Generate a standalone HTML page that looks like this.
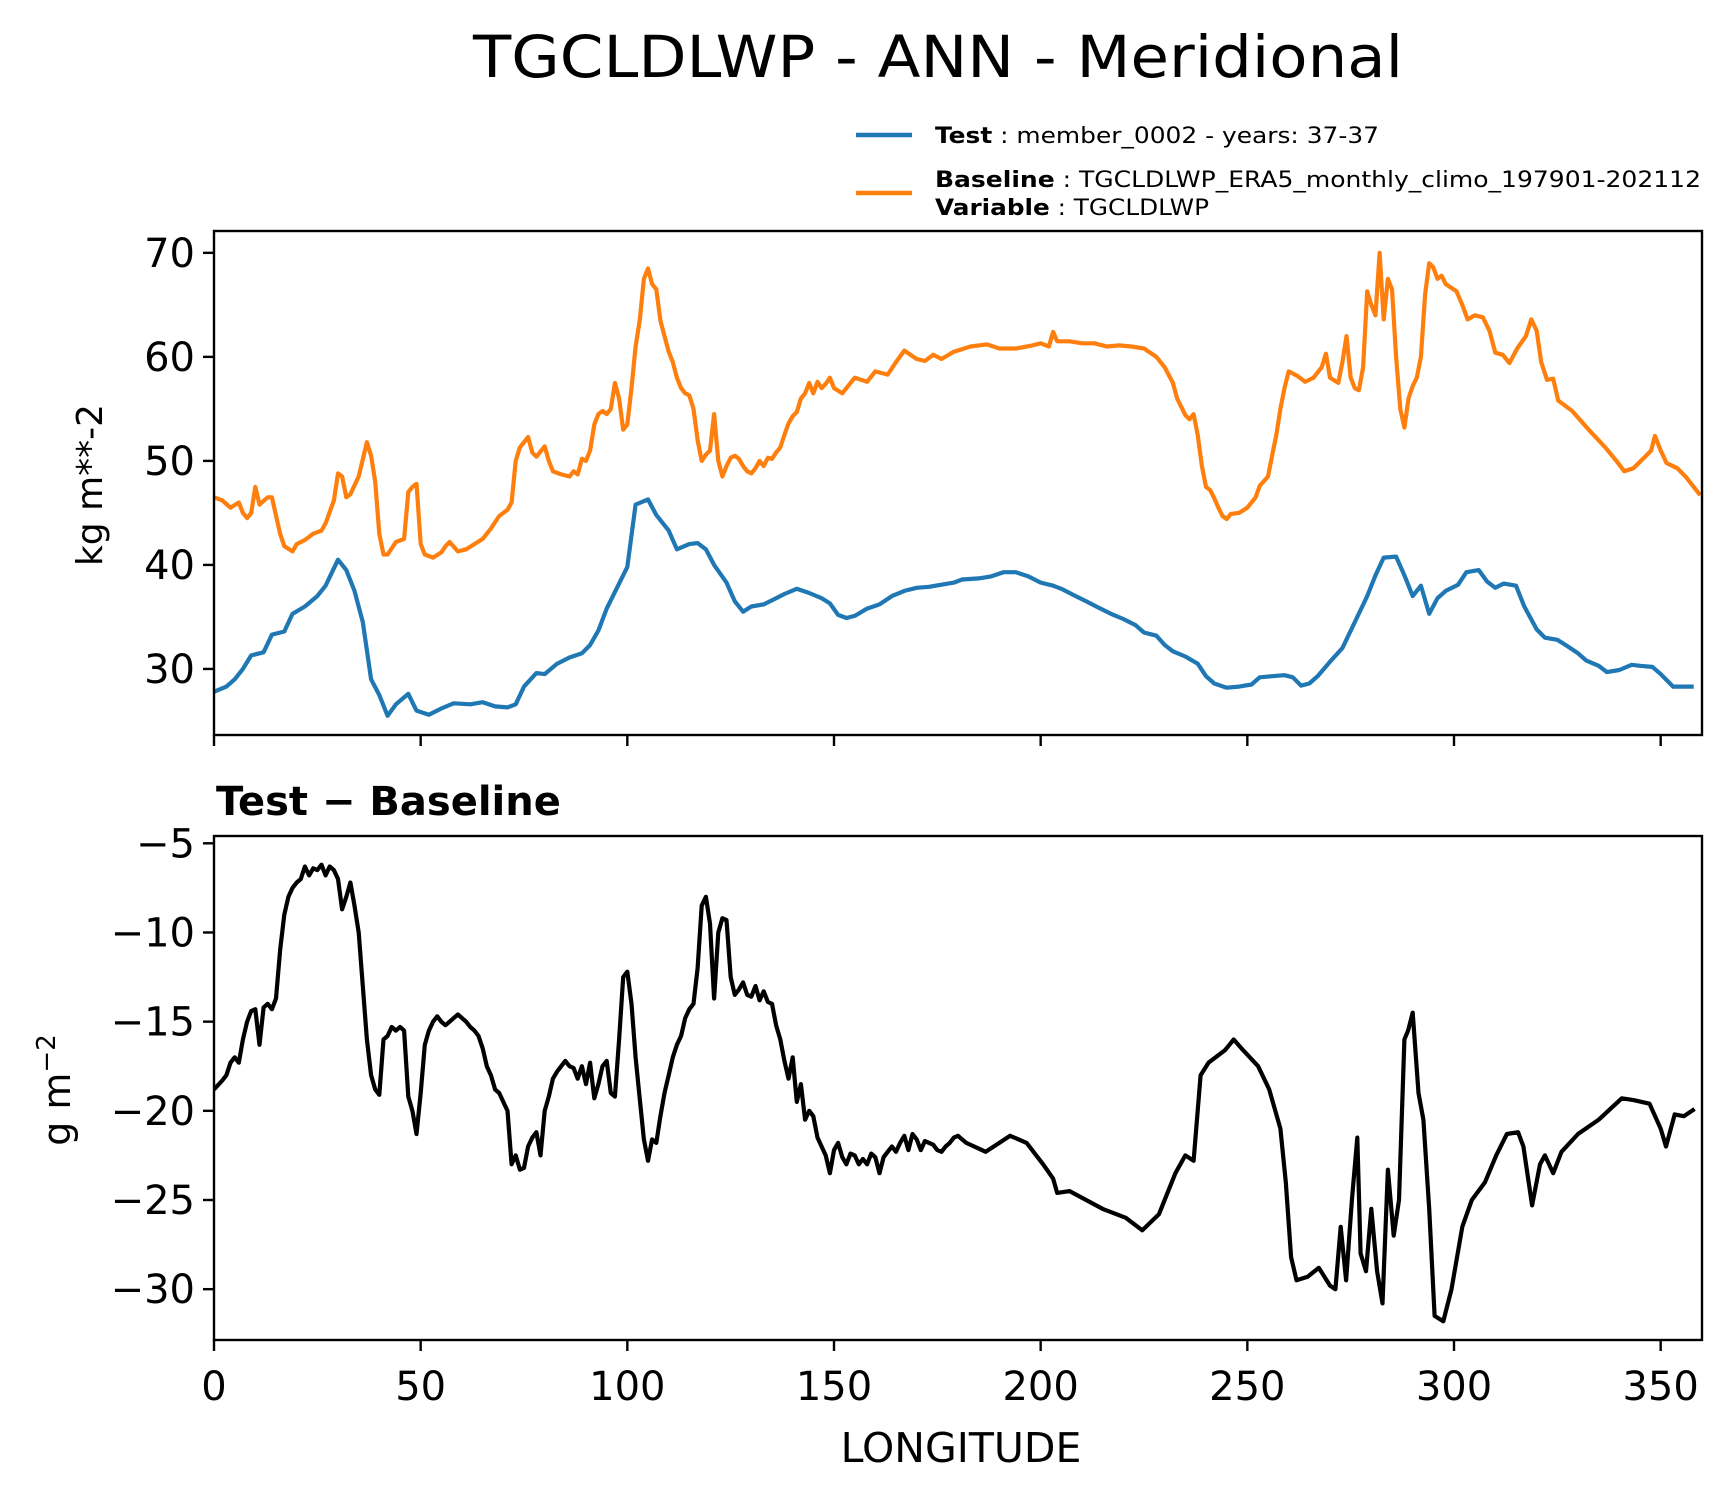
<!DOCTYPE html>
<html><head><meta charset="utf-8"><style>
html,body{margin:0;padding:0;background:#fff}
svg{display:block;font-family:"DejaVu Sans","Liberation Sans",sans-serif}
</style></head><body>
<svg id="chart" width="1731" height="1496" viewBox="0 0 1731 1496" xmlns="http://www.w3.org/2000/svg">
<rect width="1731" height="1496" fill="#fff"/>
<text x="938" y="77" font-size="58" text-anchor="middle" textLength="930" lengthAdjust="spacingAndGlyphs">TGCLDLWP - ANN - Meridional</text>
<g>
<line x1="856" y1="135" x2="912" y2="135" stroke="#1f77b4" stroke-width="4.5"/>
<text x="935" y="143" font-size="22" textLength="444" lengthAdjust="spacingAndGlyphs"><tspan font-weight="bold">Test</tspan> : member_0002 - years: 37-37</text>
<line x1="856" y1="193" x2="912" y2="193" stroke="#ff7f0e" stroke-width="4.5"/>
<text x="935" y="187" font-size="22" textLength="766" lengthAdjust="spacingAndGlyphs"><tspan font-weight="bold">Baseline</tspan> : TGCLDLWP_ERA5_monthly_climo_197901-202112</text>
<text x="935" y="215" font-size="22" textLength="274" lengthAdjust="spacingAndGlyphs"><tspan font-weight="bold">Variable</tspan> : TGCLDLWP</text>
</g>
<g id="top"></g>
<g id="bot"></g>
<text x="216" y="815" font-size="40" font-weight="bold">Test − Baseline</text>
<text transform="translate(102,485) rotate(-90)" font-size="36" text-anchor="middle">kg m**-2</text>
<text transform="translate(70,1090) rotate(-90)" font-size="38" text-anchor="middle">g m<tspan font-size="26" dy="-15">−2</tspan></text>
<text x="961" y="1462" font-size="41" text-anchor="middle">LONGITUDE</text>
</svg>
<script>
const xTicks=[0,50,100,150,200,250,300,350];
const topYTicks=[30,40,50,60,70];
const botYTicks=[-5,-10,-15,-20,-25,-30];
const testLon=[0,3,5,7,9,12,14,17,19,22,25,27,30,32,34,36,38,40,42,44,47,49,52,55,58,62,65,68,71,73,75,78,80,83,86,89,91,93,95,98,100,102,105,107,110,112,115,117,119,121,124,126,128,130,133,136,138,141,144,147,149,151,153,155,158,161,164,167,170,173,176,179,181,185,188,191,194,197,200,203,205,208,211,214,217,220,223,225,228,230,232,235,238,240,242,245,248,251,253,256,259,261,263,265,267,270,273,276,279,281,283,286,288,290,292,294,296,298,301,303,306,308,310,312,315,317,320,322,325,327,330,332,335,337,340,343,345,348,350,353,358];
const testVal=[27.8,28.3,29,30,31.3,31.6,33.3,33.6,35.3,36,37,38,40.5,39.5,37.5,34.5,29,27.5,25.5,26.6,27.6,26,25.6,26.2,26.7,26.6,26.8,26.4,26.3,26.6,28.3,29.6,29.5,30.5,31.1,31.5,32.3,33.7,35.8,38.2,39.8,45.8,46.3,44.8,43.3,41.5,42,42.1,41.5,40,38.3,36.5,35.5,36,36.2,36.8,37.2,37.7,37.3,36.8,36.3,35.2,34.9,35.1,35.8,36.2,37,37.5,37.8,37.9,38.1,38.3,38.6,38.7,38.9,39.3,39.3,38.9,38.3,38,37.7,37.1,36.5,35.9,35.3,34.8,34.2,33.5,33.2,32.3,31.7,31.2,30.5,29.3,28.6,28.2,28.3,28.5,29.2,29.3,29.4,29.2,28.4,28.6,29.3,30.7,32,34.5,37,39,40.7,40.8,39,37,38,35.3,36.8,37.5,38.1,39.3,39.5,38.4,37.8,38.2,38,36,33.8,33,32.8,32.3,31.5,30.8,30.3,29.7,29.9,30.4,30.3,30.2,29.5,28.3,28.3];
const baseLon=[0,2,4,6,7,8,9,10,11,13,14,16,17,19,20,22,24,26,27,29,30,31,32,33,35,37,38,39,40,41,42,44,46,47,48,49,50,51,53,55,56,57,59,61,63,65,67,69,71,72,73,74,76,77,78,80,81,82,84,86,87,88,89,90,91,92,93,94,95,96,97,98,99,100,101,102,103,104,105,106,107,108,109,110,111,112,113,114,115,116,117,118,119,120,121,122,123,124,125,126,127,128,129,130,131,132,133,134,135,136,137,138,139,140,141,142,143,144,145,146,147,148,149,150,152,155,158,160,163,165,167,170,172,174,176,179,183,187,190,194,198,200,202,203,204,207,210,213,216,219,222,225,228,230,232,233,235,236,237,238,239,240,241,242,243,244,245,246,248,250,252,253,255,256,257,258,259,260,262,264,266,268,269,270,272,273,274,275,276,277,278,279,280,281,282,283,284,285,286,287,288,289,290,291,292,293,294,295,296,297,298,300.6,302,303.3,305,307,308.6,310,311.8,313.4,315.3,317.4,318.7,320,321.1,322.5,324,325.2,328.6,332.6,336.6,339.3,341.2,343.4,346,347.7,348.6,350,351.4,354,356,358,359.6];
const baseVal=[46.5,46.2,45.5,46,45,44.5,45,47.5,45.8,46.5,46.5,43,41.8,41.3,42,42.4,43,43.3,44,46.2,48.8,48.5,46.5,46.8,48.5,51.8,50.5,48,43,41,41,42.2,42.5,47,47.5,47.8,42,41,40.7,41.2,41.8,42.2,41.3,41.5,42,42.5,43.5,44.7,45.3,46,50,51.3,52.3,50.8,50.4,51.4,50,49,48.7,48.5,49,48.7,50.2,50,51,53.5,54.5,54.8,54.5,55,57.5,56,53,53.5,57,61,63.5,67.5,68.5,67,66.5,63.5,62,60.5,59.5,58,57,56.5,56.3,55,52,50,50.6,51,54.5,50,48.5,49.5,50.3,50.5,50.2,49.5,49,48.8,49.3,50,49.5,50.3,50.2,50.8,51.3,52.5,53.6,54.3,54.7,56,56.5,57.5,56.5,57.6,57,57.4,58,57,56.5,58,57.6,58.6,58.3,59.5,60.6,59.8,59.6,60.2,59.8,60.5,61,61.2,60.8,60.8,61.1,61.3,61,62.4,61.5,61.5,61.3,61.3,61,61.1,61,60.8,60,59,57.5,56,54.4,54,54.5,52.5,49.5,47.5,47.2,46.4,45.5,44.7,44.4,44.9,45,45.5,46.5,47.6,48.5,50.5,52.5,55,57,58.6,58.2,57.6,58,59,60.3,58,57.5,59.5,62,58,57,56.8,59,66.3,65,64,70,63.6,67.5,66.5,60,55,53.2,56,57.2,58,60,66,69,68.6,67.5,67.8,67,66.3,65,63.6,64,63.8,62.5,60.4,60.2,59.4,60.8,62,63.6,62.5,59.5,57.8,57.9,55.8,54.8,53,51.3,50,49,49.3,50.3,51,52.4,51,49.8,49.3,48.5,47.5,46.7];
const diffLon=[0,2,3,4,5,6,7,8,9,10,11,12,13,14,15,16,17,18,19,20,21,22,23,24,25,26,27,28,29,30,31,32,33,34,35,36,37,38,39,40,41,42,43,44,45,46,47,48,49,50,51,52,53,54,55,56,57,58,59,60,61,62,63,64,65,66,67,68,69,70,71,72,73,74,75,76,77,78,79,80,81,82,83,84,85,86,87,88,89,90,91,92,93,94,95,96,97,98,99,100,101,102,103,104,105,106,107,108,109,110,111,112,113,114,115,116,117,118,119,120,121,122,123,124,125,126,127,128,129,130,131,132,133,134,135,136,137,138,139,140,141,142,143,144,145,146,147,148,149,150,151,152,153,154,155,156,157,158,159,160,161,162,163,164,165,166,167,168,169,170,171,172,173,174,175,176,177,178,179,180,181,182,186.7,192.6,196.6,200.6,203,204,207,211,215,220.6,224.6,228.6,232.6,235,237,238.7,240.6,244.6,246.7,248.6,252.6,255.3,258,259.3,260.6,261.9,264.6,267.3,270,271.3,272.6,273.9,275.3,276.6,277.4,278.7,280,281.4,282.7,284,285.4,286.7,288,288.9,290,291.4,292.6,294,295.3,297.4,299.4,302,304.3,307.5,310.2,312.8,315.5,316.8,318.9,320.8,322,324,326,330,335,340.6,343.4,347.3,350,351.3,353.4,355.6,358.2];
const diffVal=[-18.8,-18.3,-18,-17.3,-17,-17.3,-16,-15,-14.4,-14.3,-16.3,-14.2,-14,-14.3,-13.7,-11,-9,-8,-7.5,-7.2,-7,-6.3,-6.8,-6.4,-6.5,-6.2,-6.8,-6.3,-6.5,-7,-8.7,-8,-7.2,-8.5,-10,-13,-16,-18,-18.8,-19.1,-16,-15.8,-15.3,-15.5,-15.3,-15.5,-19.2,-20,-21.3,-19,-16.3,-15.5,-15,-14.7,-15,-15.2,-15,-14.8,-14.6,-14.8,-15,-15.3,-15.5,-15.8,-16.5,-17.5,-18,-18.8,-19,-19.5,-20,-23,-22.5,-23.3,-23.2,-22,-21.5,-21.2,-22.5,-20,-19.2,-18.2,-17.8,-17.5,-17.2,-17.5,-17.6,-18.2,-17.5,-18.5,-17.3,-19.3,-18.5,-17.5,-17.2,-19,-19.2,-16,-12.5,-12.2,-14,-17,-19.3,-21.6,-22.8,-21.6,-21.8,-20.3,-19,-18,-17,-16.3,-15.8,-14.8,-14.3,-14,-12,-8.5,-8,-9.5,-13.7,-10,-9.2,-9.3,-12.5,-13.5,-13.2,-12.8,-13.5,-13.6,-13,-13.8,-13.3,-13.9,-14,-15.2,-16,-17.2,-18.2,-17,-19.5,-18.5,-20.5,-20,-20.3,-21.5,-22,-22.5,-23.5,-22.2,-21.8,-22.6,-23,-22.4,-22.5,-23,-22.7,-23,-22.4,-22.6,-23.5,-22.6,-22.3,-22,-22.3,-21.8,-21.4,-22.2,-21.3,-21.6,-22.2,-21.7,-21.8,-21.9,-22.2,-22.3,-22,-21.8,-21.5,-21.4,-21.6,-21.8,-22.3,-21.4,-21.8,-23,-23.8,-24.6,-24.5,-25,-25.5,-26,-26.7,-25.8,-23.5,-22.5,-22.8,-18,-17.3,-16.6,-16,-16.5,-17.5,-18.8,-21,-24,-28.2,-29.5,-29.3,-28.8,-29.8,-30,-26.5,-29.5,-25,-21.5,-28,-29,-25.5,-29,-30.8,-23.3,-27,-25,-16,-15.5,-14.5,-19,-20.5,-25.5,-31.5,-31.8,-30,-26.5,-25,-24,-22.5,-21.3,-21.2,-22,-25.3,-23,-22.5,-23.5,-22.3,-21.3,-20.5,-19.3,-19.4,-19.6,-21,-22,-20.2,-20.3,-19.9];

const NS='http://www.w3.org/2000/svg';
const X0=214,X1=1702,XMAX=360;
function xs(v){return X0+(v/XMAX)*(X1-X0);}
const T={top:231,bottom:735,ymin:23.65,ymax:72.1};
const B={top:836,bottom:1340,ymin:-32.85,ymax:-4.59};
function ys(p,v){return p.bottom-(v-p.ymin)/(p.ymax-p.ymin)*(p.bottom-p.top);}
function mk(tag,attrs,parent){const e=document.createElementNS(NS,tag);for(const k in attrs)e.setAttribute(k,attrs[k]);parent.appendChild(e);return e;}

function panel(g,p,yt,labelFmt,showX,pre){
  const clipId=pre+'-clip';
  const defs=mk('defs',{},g);
  const cp=mk('clipPath',{id:clipId},defs);
  mk('rect',{x:X0,y:p.top,width:X1-X0,height:p.bottom-p.top},cp);
  const lines=mk('g',{'clip-path':'url(#'+clipId+')'},g);
  
  
  yt.forEach(v=>{
    const y=ys(p,v);
    const t=mk('line',{x1:X0-11,x2:X0,y1:y,y2:y,stroke:'#000','stroke-width':2.4},g);
    
    
    const l=mk('text',{x:X0-19,y:y+14,'font-size':40,'text-anchor':'end'},g);
    l.textContent=labelFmt(v);
    
    
  });
  xTicks.forEach(v=>{
    const x=xs(v);
    const t=mk('line',{x1:x,x2:x,y1:p.bottom,y2:p.bottom+11,stroke:'#000','stroke-width':2.4},g);
    
    
    if(showX){
      const l=mk('text',{x:x,y:p.bottom+60,'font-size':40,'text-anchor':'middle'},g);
      l.textContent=String(v);
      
      
    }
  });
  const f=mk('rect',{x:X0,y:p.top,width:X1-X0,height:p.bottom-p.top,fill:'none',stroke:'#000','stroke-width':2.4},g);
  
  
  return lines;
}
function series(parent,p,lon,val,color,name){
  let d='';
  for(let i=0;i<lon.length;i++){d+=(i?'L':'M')+xs(lon[i]).toFixed(1)+','+ys(p,val[i]).toFixed(1);}
  const e=mk('path',{d:d,fill:'none',stroke:color,'stroke-width':4.2,'stroke-linejoin':'round'},parent);
  
  
}
const tl=panel(document.getElementById('top'),T,topYTicks,v=>String(v),false,'top');
series(tl,T,testLon,testVal,'#1f77b4','test-line');
series(tl,T,baseLon,baseVal,'#ff7f0e','baseline-line');
const bl=panel(document.getElementById('bot'),B,botYTicks,v=>'\u2212'+Math.abs(v),true,'bottom');
series(bl,B,diffLon,diffVal,'#000','difference-line');
</script>
</body></html>
